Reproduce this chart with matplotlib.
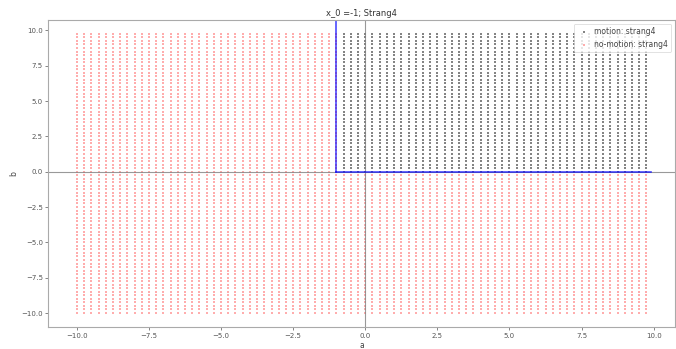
import numpy as np
import matplotlib
matplotlib.use("Agg")
import matplotlib.pyplot as plt

# parameter grid
a_vals = np.arange(-10, 10, 0.25)
b_vals = np.arange(-10, 10, 0.25)
x_0 = -1
b_threshold = 0.0
title = "x_0 =-1; Strang4"
motion_label = "motion: strang4"
no_motion_label = "no-motion: strang4"

A, B = np.meshgrid(a_vals, b_vals)
A = A.ravel()
B = B.ravel()
motion = (A > x_0) & (B >= b_threshold)

fig = plt.figure(figsize=(6.76, 3.49), dpi=100)
ax = fig.add_axes([0.0715, 0.063, 0.927, 0.880])

ax.scatter(A[motion], B[motion], s=2.6, c="#333333", alpha=0.6,
           linewidths=0, marker="s", label=motion_label)
ax.scatter(A[~motion], B[~motion], s=2.6, c="#ff3333", alpha=0.4,
           linewidths=0, marker="s", label=no_motion_label)

ax.axhline(0, color="gray", lw=0.8, alpha=0.8)
ax.axvline(0, color="gray", lw=0.8, alpha=0.8)

ax.plot([x_0, x_0], [b_threshold, 11], color="blue", lw=1.2, alpha=0.7)
ax.plot([x_0, 9.9], [b_threshold, b_threshold], color="blue", lw=1.2, alpha=0.7)

ax.set_xlim(-10.99, 10.74)
ax.set_ylim(-10.99, 10.74)

ax.set_title(title, fontsize=6, pad=3, color="#333333")
ax.set_xlabel("a", fontsize=5.5, labelpad=2, color="#444444")
ax.set_ylabel("b", fontsize=5.5, labelpad=2, color="#444444")
ax.tick_params(labelsize=5, length=2, width=0.5, pad=2, colors="#555555")
for s in ax.spines.values():
    s.set_color("#aaaaaa")
    s.set_linewidth(0.8)

leg = ax.legend(loc="upper right", fontsize=5.5, markerscale=0.8,
                frameon=True, borderpad=0.4, handletextpad=0.3)
leg.get_frame().set_linewidth(0.5)
for t in leg.get_texts():
    t.set_color("#444444")

fig.savefig("out.png", dpi=100)
